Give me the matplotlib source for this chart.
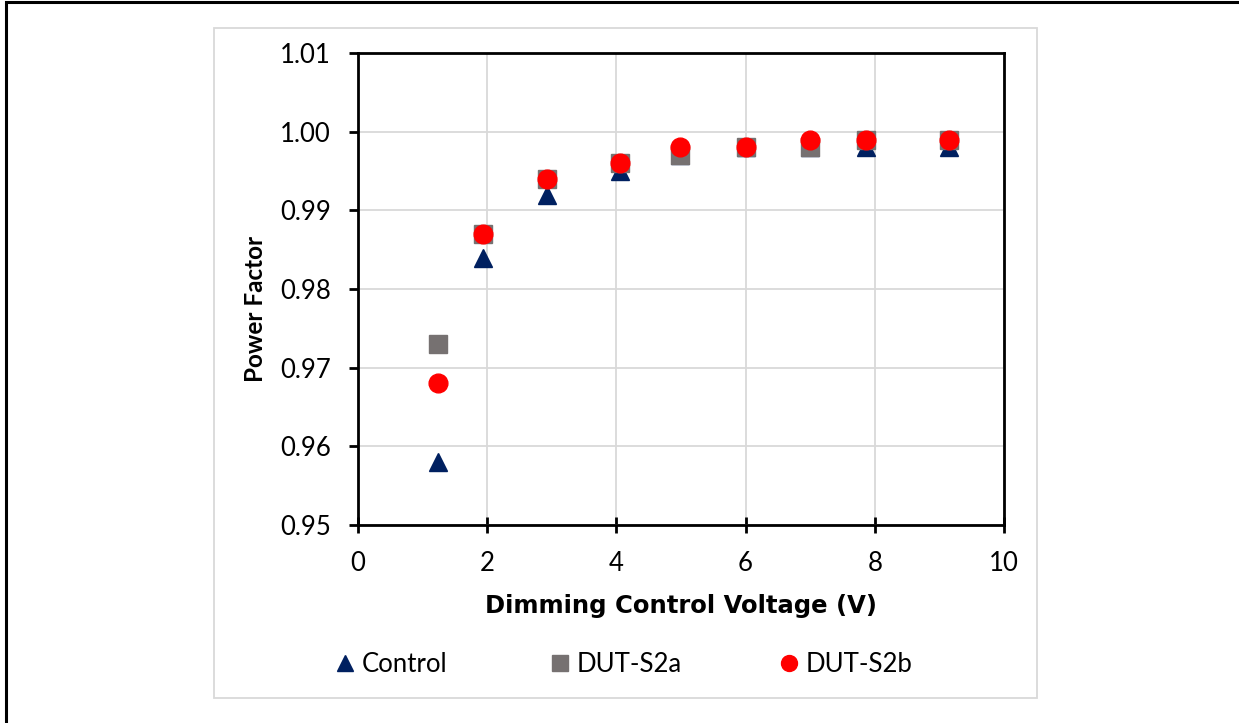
import matplotlib.pyplot as plt
from matplotlib.lines import Line2D
from matplotlib.patches import Rectangle

plt.rcParams['font.family'] = ['Lato', 'DejaVu Sans']

# dimming control voltage (V)
voltage = [1.24, 1.93, 2.92, 4.05, 4.99, 6.0, 6.99, 7.87, 9.15]

# power factor per unit
control = [0.958, 0.984, 0.992, 0.995, 0.997, 0.998, 0.998, 0.998, 0.998]
dut_s2a = [0.973, 0.987, 0.994, 0.996, 0.997, 0.998, 0.998, 0.999, 0.999]
dut_s2b = [0.968, 0.987, 0.994, 0.996, 0.998, 0.998, 0.999, 0.999, 0.999]

series_names = ['Control', 'DUT-S2a', 'DUT-S2b']
xticks = [0, 2, 4, 6, 8, 10]
yticks = [0.95, 0.96, 0.97, 0.98, 0.99, 1.00, 1.01]

W, H = 1239, 723
fig = plt.figure(figsize=(W / 100, H / 100), dpi=100)

# outer frame (only top/left end up on the canvas) and light chart-area border
fig.patches.append(Rectangle((6 / W, -0.1), 1.2, 1 - 2 / H + 0.1, transform=fig.transFigure,
                             fill=False, edgecolor='black', linewidth=2.2))
fig.patches.append(Rectangle((214 / W, 1 - 698 / H), (1037 - 214) / W, (698 - 28) / H,
                             transform=fig.transFigure, fill=False, edgecolor='#d9d9d9', linewidth=1.3))

ax = fig.add_axes([358 / W, 1 - 525 / H, (1004 - 358) / W, (525 - 53) / H])

styles = [('^', '#002060', 13.5), ('s', '#767171', 13), ('o', '#ff0000', 13.5)]
for ys, (m, c, ms) in zip([control, dut_s2a, dut_s2b], styles):
    ax.plot(voltage, ys, m, color=c, markersize=ms, linestyle='none')

ax.set_xlim(0, 10)
ax.set_ylim(0.95, 1.01)
ax.set_xticks(xticks)
ax.set_yticks(yticks)
ax.set_xticklabels([str(t) for t in xticks])
ax.set_yticklabels(['%.2f' % t for t in yticks])
ax.grid(True, color='#d9d9d9', linewidth=1.3)
ax.set_axisbelow(True)

for s in ax.spines.values():
    s.set_linewidth(2)
ax.tick_params(axis='y', direction='out', length=6.5, width=2, pad=13, labelsize=18.5)
ax.tick_params(axis='x', direction='inout', length=12, width=2, pad=13, labelsize=18.5)

ax.set_xlabel('Dimming Control Voltage (V)', fontsize=17.5, fontweight='bold',
              family='DejaVu Sans', labelpad=13)
ax.set_ylabel('Power Factor', fontsize=17.5, fontweight='bold')
ax.yaxis.set_label_coords(-0.141, 0.458)

# one legend entry per slot along the bottom
slots = [334.7, 549.7, 778.7]
for name, (m, c, ms), x0 in zip(series_names, styles, slots):
    h = Line2D([], [], marker=m, color=c, markersize=ms * 0.85, linestyle='none')
    fig.legend(handles=[h], labels=[name], loc='center left',
               bbox_to_anchor=(x0 / W, 1 - 664 / H), frameon=False, fontsize=18.5,
               handlelength=0.8, handletextpad=0.25, borderpad=0, borderaxespad=0)

fig.savefig('out.png', dpi=100)
